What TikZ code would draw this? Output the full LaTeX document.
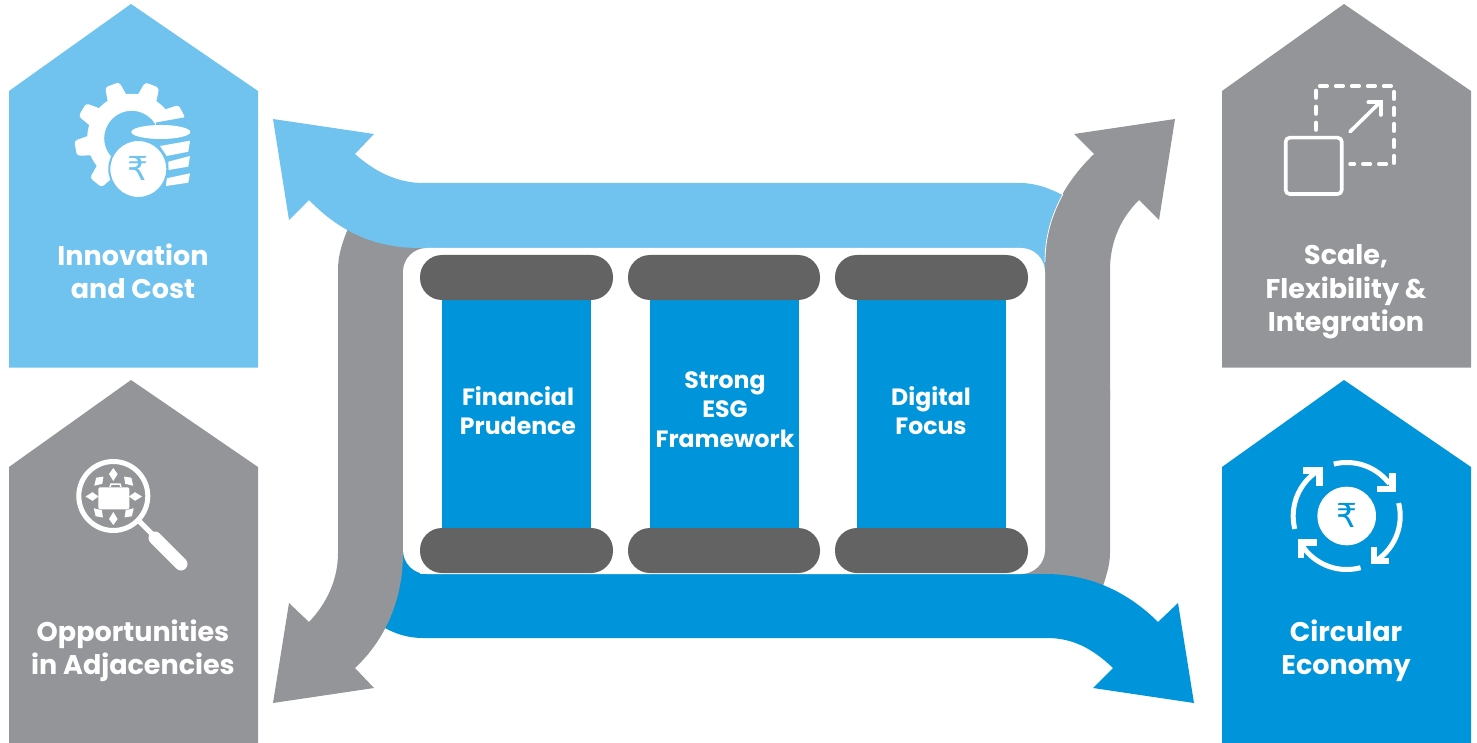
\documentclass[tikz,border=0pt]{standalone}
\usepackage{fontspec}
\setmainfont{Poppins}
\newfontfamily\rupeefont{DejaVu Sans}
\definecolor{skyb}{HTML}{6FC3EE}
\definecolor{deepb}{HTML}{0095DA}
\definecolor{greyb}{HTML}{939598}
\definecolor{darkb}{HTML}{636363}
\tikzset{
  hlabel/.style={text=white,font=\fontsize{27}{33.4}\selectfont\bfseries,align=center,inner sep=0pt},
  plabel/.style={text=white,font=\fontsize{23.6}{29.3}\selectfont\bfseries,align=center,inner sep=0pt},
  capbar/.style={fill=darkb,rounded corners=22pt},
  column/.style={fill=deepb},
  rupee/.style={font=\fontsize{33}{33}\selectfont\rupeefont,inner sep=0pt}
}
\newcommand{\house}[3]{\fill[#3] (#1,#2+87) -- (#1+122,#2) -- (#1+249,#2+87) -- (#1+249,#2+363.5) -- (#1,#2+363.5) -- cycle;}
\newcommand{\kite}[3]{\fill[white,shift={(#1,#2)},rotate=#3] (0,-7) -- (4.3,-1) -- (0,6) -- (-4.3,-1) -- cycle;}
\begin{document}
\begin{tikzpicture}[x=1pt,y=-1pt]
\useasboundingbox (0,0) rectangle (1477,743);
% houses
\house{9}{4}{skyb}
\house{9}{380}{greyb}
\house{1222}{4}{greyb}
\house{1222}{380}{deepb}
% right grey arrow, lower part
\fill[greyb] (1045,390) -- (1110,390) -- (1110,553) .. controls (1110,565) and (1106,577) .. (1101,592) -- (1000,592) -- (1000,540) -- (1045,540) -- cycle;
% deep blue arrow
\fill[deepb] (375,540) -- (420,540) -- (420,574) -- (1045,574) .. controls (1090,574) and (1128,592) .. (1158,622) -- (1178,603) -- (1194,703) -- (1093,688) -- (1113,668) .. controls (1092,648) and (1072,638) .. (1047,638) -- (423,638) .. controls (408,638) and (396,634) .. (385,628) -- (350,600) -- cycle;
% left grey arrow
\fill[greyb] (338,270) .. controls (338,255) and (342,243) .. (349,226) -- (430,226) -- (430,300) -- (403,300) -- (403,553) .. controls (403,600) and (385,640) .. (355,668) -- (374,688) -- (273,703) -- (289,603) -- (309,622) .. controls (328,602) and (338,578) .. (338,553) -- cycle;
% light blue arrow
\fill[skyb] (273,119) -- (374,134) -- (355,154) .. controls (375,172) and (398,183) .. (423,183) -- (1020,183) .. controls (1035,183) and (1050,188) .. (1066,197) -- (1066,280) -- (1000,280) -- (1000,248) -- (420,248) .. controls (375,248) and (340,232) .. (309,200) -- (289,220) -- cycle;
% right grey arrow, upper part
\fill[greyb] (1175,119) -- (1159,220) -- (1139,200) .. controls (1122,217) and (1110,240) .. (1110,270) -- (1110,400) -- (1045,400) -- (1045,262) .. controls (1045,220) and (1062,185) .. (1094,154) -- (1074,134) -- cycle;
\draw[white,line width=0.8pt] (1045,262) .. controls (1045,236) and (1052,214) .. (1063,194);
% panel
\fill[white,rounded corners=24pt] (403,248) rectangle (1045,574);
% pillars
\fill[column] (442,290) rectangle (591,540);
\fill[column] (650,290) rectangle (799,540);
\fill[column] (857,290) rectangle (1006,540);
\fill[capbar] (420,255) rectangle (613,300);
\fill[capbar] (628,255) rectangle (820,300);
\fill[capbar] (835,255) rectangle (1028,300);
\fill[capbar] (420,528) rectangle (613,573);
\fill[capbar] (628,528) rectangle (820,573);
\fill[capbar] (835,528) rectangle (1028,573);
% pillar labels
\node[plabel] (fin) at (518,410.5) {Financial\\Prudence};
\node[plabel] (esg) at (725,409.5) {Strong\\ESG\\Framework};
\node[plabel] (dig) at (931,410.5) {Digital\\Focus};
% house labels
\node[hlabel] (inn) at (133,271.5) {Innovation\\and Cost};
\node[hlabel] (opp) at (133,650.5) {Opportunities\\in Adjacencies};
\node[hlabel] (sca) at (1346,292) {Scale,\\Flexibility \&\\Integration};
\node[hlabel] (cir) at (1346,650.5) {Circular\\Economy};
% gear icon
\draw[white,line width=17pt] plot[domain=20:250,samples=50] ({131.7+36*cos(\x)},{138.3-36*sin(\x)});
\foreach \a in {28,69,110,150,190,231}
  \fill[white,rounded corners=3pt,shift={(131.7,138.3)},rotate=\a] (36,-11) -- (57,-7.5) -- (57,7.5) -- (36,11) -- cycle;
\fill[skyb] (156,122.5) -- (195,115.5) -- (195,135) -- (156,135) -- cycle;
\fill[white] (160.8,132) ellipse (29.5 and 7);
\fill[white] (160,146) -- (190,140.7) -- (188.3,151.7) -- (166.7,156) -- cycle;
\fill[white] (168.3,161.7) -- (190,156) -- (188.3,166.7) -- (168.3,170) -- cycle;
\fill[white] (166.7,178.3) -- (190,173.3) -- (188.3,182.7) -- (166,186) -- cycle;
\filldraw[fill=white,draw=skyb,line width=2pt] (138.3,169) circle (29);
\node[rupee,text=skyb] (r1) at (138.3,168) {₹};
% magnifier icon
\draw[white,line width=5pt] (113.3,496) circle (34.5);
\draw[white,line width=5pt] (139,521) -- (152,534);
\draw[white,line width=13pt,line cap=round] (155,538) -- (181,564);
\fill[white,rounded corners=2pt] (98.3,487.3) rectangle (129.3,509.3);
\draw[white,line width=1.5pt] (110,487) -- (111,484) -- (120,484) -- (121,487);
\kite{113.3}{475}{0}
\kite{113.3}{518}{180}
\kite{91.5}{496.5}{-90}
\kite{136}{496.5}{90}
\kite{98.5}{481.5}{-45}
\kite{129}{481.5}{45}
\kite{98}{512.5}{-135}
\kite{129.5}{512.5}{135}
% scale icon
\draw[white,line width=3.6pt,rounded corners=4pt] (1285.7,137.7) rectangle (1341.7,194);
\draw[white,line width=3.6pt,line cap=round,dash pattern=on 7.5pt off 8.5pt] (1315.7,130) -- (1315.7,86) -- (1394,86) -- (1394,164) -- (1350,164);
\draw[white,line width=3.6pt,line cap=round] (1350,131.7) -- (1380,102.3);
\draw[white,line width=3.6pt,line cap=round] (1368.3,102.3) -- (1380.7,102.3) -- (1380.7,115);
% circular icon
\fill[white] (1346.7,516) circle (29.3);
\node[rupee,text=deepb] (r2) at (1346.7,515) {₹};
\draw[white,line width=5pt] plot[domain=104:37,samples=30] ({1346.7+53.5*cos(\x)},{516-53.5*sin(\x)});
\draw[white,line width=5pt] plot[domain=14:-59,samples=30] ({1346.7+53.5*cos(\x)},{516-53.5*sin(\x)});
\draw[white,line width=5pt] plot[domain=-75:-148,samples=30] ({1346.7+53.5*cos(\x)},{516-53.5*sin(\x)});
\draw[white,line width=5pt] plot[domain=194:122,samples=30] ({1346.7+53.5*cos(\x)},{516-53.5*sin(\x)});
\draw[white,line width=6.5pt] (1392.7,473.3) -- (1392.7,489) -- (1376.7,489);
\draw[white,line width=6.5pt] (1374,546.7) -- (1374,561) -- (1389.3,561);
\draw[white,line width=6.5pt] (1316.7,542.6) -- (1301,542.6) -- (1301,558.3);
\draw[white,line width=6.5pt] (1303.3,470.6) -- (1319.4,470.6) -- (1319.4,486);
\end{tikzpicture}
\end{document}
